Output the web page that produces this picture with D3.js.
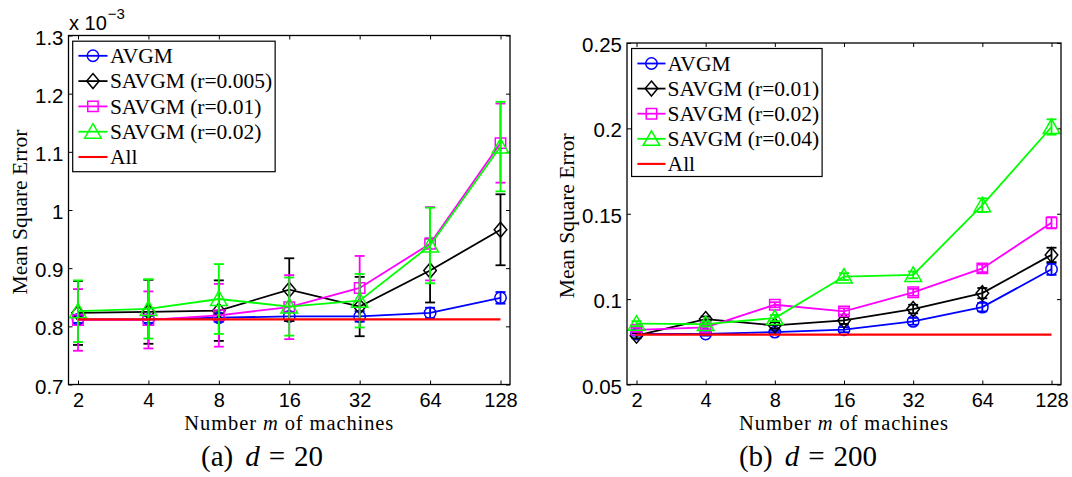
<!DOCTYPE html>
<html><head><meta charset="utf-8">
<script src="https://cdn.jsdelivr.net/npm/d3@7"></script>
<style>body{margin:0;background:#fff} svg{display:block}</style>
</head><body>
<svg id="c" width="1072" height="477"></svg>
<script>
// ---------- DATA ----------
const machines = [2, 4, 8, 16, 32, 64, 128];
const xTickLabels = ["2", "4", "8", "16", "32", "64", "128"];

// Panel (a) d = 20  (values in units of 1e-3)
const a_names = ["AVGM", "SAVGM (r=0.005)", "SAVGM (r=0.01)", "SAVGM (r=0.02)", "All"];
const a_avgm    = [0.812, 0.812, 0.815, 0.817, 0.817, 0.823, 0.849];
const a_avgmErr = [0.006, 0.006, 0.007, 0.008, 0.009, 0.009, 0.010];
const a_s1      = [0.823, 0.825, 0.827, 0.863, 0.834, 0.896, 0.966];
const a_s1Err   = [0.055, 0.055, 0.052, 0.054, 0.051, 0.055, 0.061];
const a_s2      = [0.811, 0.811, 0.819, 0.833, 0.866, 0.942, 1.115];
const a_s2Err   = [0.053, 0.049, 0.054, 0.055, 0.055, 0.063, 0.068];
const a_s3      = [0.826, 0.830, 0.847, 0.834, 0.844, 0.939, 1.109];
const a_s3Err   = [0.053, 0.051, 0.060, 0.050, 0.046, 0.065, 0.077];
const a_all     = [0.812, 0.812, 0.812, 0.812, 0.812, 0.812, 0.812];
const a_yTicks  = [0.7, 0.8, 0.9, 1.0, 1.1, 1.2, 1.3];

// Panel (b) d = 200
const b_names = ["AVGM", "SAVGM (r=0.01)", "SAVGM (r=0.02)", "SAVGM (r=0.04)", "All"];
const b_avgm    = [0.0796, 0.0796, 0.0807, 0.0821, 0.0870, 0.0953, 0.1175];
const b_avgmErr = [0.0010, 0.0010, 0.0012, 0.0015, 0.0020, 0.0025, 0.0033];
const b_s1      = [0.0786, 0.0883, 0.0846, 0.0875, 0.0942, 0.1035, 0.1259];
const b_s1Err   = [0.0015, 0.0015, 0.0018, 0.0020, 0.0025, 0.0030, 0.0042];
const b_s2      = [0.0820, 0.0835, 0.0967, 0.0928, 0.1040, 0.1180, 0.1447];
const b_s2Err   = [0.0012, 0.0012, 0.0015, 0.0018, 0.0020, 0.0022, 0.0033];
const b_s3      = [0.0856, 0.0854, 0.0889, 0.1132, 0.1142, 0.1550, 0.2008];
const b_s3Err   = [0.0015, 0.0015, 0.0018, 0.0020, 0.0020, 0.0040, 0.0045];
const b_all     = [0.0792, 0.0792, 0.0792, 0.0792, 0.0792, 0.0792, 0.0792];
const b_yTicks  = [0.05, 0.1, 0.15, 0.2, 0.25];

// ---------- STYLE ----------
const SERIF = "'Liberation Serif','Times New Roman',Times,serif";
const SANS = "'Liberation Sans',Arial,Helvetica,sans-serif";
const COLORS = ["#0000ff", "#000000", "#ff00ff", "#00ff00", "#ff0000"];
const MARKERS = ["circle", "diamond", "square", "triangle", null];

const svg = d3.select("#c");

function markerPath(type) {
  const p = d3.path();
  if (type === "circle") { p.moveTo(5.7, 0); p.arc(0, 0, 5.7, 0, 2 * Math.PI); }
  else if (type === "square") { p.rect(-5.2, -5.2, 10.4, 10.4); }
  else if (type === "diamond") { p.moveTo(0, -7.5); p.lineTo(6.3, 0); p.lineTo(0, 7.5); p.lineTo(-6.3, 0); p.closePath(); }
  else if (type === "triangle") { p.moveTo(0, -8); p.lineTo(8.3, 6.5); p.lineTo(-8.3, 6.5); p.closePath(); }
  return p.toString();
}

const panels = [
  {
    box: {x0: 68.5, x1: 510, y0: 35.5, y1: 384.5},
    yDomain: [0.7, 1.3], yTicks: a_yTicks,
    names: a_names,
    values: [a_avgm, a_s1, a_s2, a_s3], errs: [a_avgmErr, a_s1Err, a_s2Err, a_s3Err], all: a_all,
    legend: {dx: 4.2, dy: 5.7, h: 130.5, rowH: 25.3, first: 14.6, l0: 5.7, l1: 34.8, tx: 37.2},
    yLabelX: 27, exponent: true,
    caption: {x: 262, y: 466, tag: "(a)", val: "20"}
  },
  {
    box: {x0: 627, x1: 1061, y0: 43, y1: 384.5},
    yDomain: [0.05, 0.25], yTicks: b_yTicks,
    names: b_names,
    values: [b_avgm, b_s1, b_s2, b_s3], errs: [b_avgmErr, b_s1Err, b_s2Err, b_s3Err], all: b_all,
    legend: {dx: 4.6, dy: 5.5, h: 128, rowH: 25.1, first: 15, l0: 5.8, l1: 33.9, tx: 36},
    yLabelX: 574, exponent: false,
    caption: {x: 808, y: 466, tag: "(b)", val: "200"}
  }
];

panels.forEach(P => {
  const B = P.box;
  const inset = 9.5;
  const x = d3.scaleLog().base(2).domain([2, 128]).range([B.x0 + inset, B.x1 - inset]);
  const y = d3.scaleLinear().domain(P.yDomain).range([B.y1, B.y0]);
  const g = svg.append("g");

  // axes with inward ticks on all four sides
  const fmt = d3.format("~g");
  const xb = g.append("g").attr("transform", `translate(0,${B.y1})`)
    .call(d3.axisBottom(x).tickValues(machines).tickFormat((d, i) => xTickLabels[i]).tickSize(-4).tickPadding(7.8));
  const xt = g.append("g").attr("transform", `translate(0,${B.y0})`)
    .call(d3.axisTop(x).tickValues(machines).tickFormat("").tickSize(-4));
  const yl = g.append("g").attr("transform", `translate(${B.x0},0)`)
    .call(d3.axisLeft(y).tickValues(P.yTicks).tickFormat(fmt).tickSize(-4).tickPadding(5));
  const yr = g.append("g").attr("transform", `translate(${B.x1},0)`)
    .call(d3.axisRight(y).tickValues(P.yTicks).tickFormat("").tickSize(-4));
  [xb, xt, yl, yr].forEach(a => {
    a.select(".domain").remove();
    a.selectAll("line").attr("stroke", "#000").attr("stroke-width", 1);
    a.selectAll("text").attr("font-family", SANS).attr("font-size", 20.5).attr("fill", "#000");
  });
  xb.selectAll("text").attr("font-size", 20);
  yl.selectAll("text").attr("dy", null).attr("y", 8.5);

  // series
  P.values.forEach((vals, si) => {
    const col = COLORS[si];
    const sg = g.append("g");
    const pts = machines.map((m, i) => ({m, v: vals[i], e: P.errs[si][i]}));
    sg.append("path").datum(pts)
      .attr("d", d3.line().x(d => x(d.m)).y(d => y(d.v)))
      .attr("fill", "none").attr("stroke", col).attr("stroke-width", 1.8);
    const eb = sg.selectAll(".eb").data(pts).enter().append("g");
    eb.append("line").attr("x1", d => x(d.m)).attr("x2", d => x(d.m))
      .attr("y1", d => y(d.v - d.e)).attr("y2", d => y(d.v + d.e));
    eb.append("line").attr("x1", d => x(d.m) - 5).attr("x2", d => x(d.m) + 5)
      .attr("y1", d => y(d.v - d.e)).attr("y2", d => y(d.v - d.e));
    eb.append("line").attr("x1", d => x(d.m) - 5).attr("x2", d => x(d.m) + 5)
      .attr("y1", d => y(d.v + d.e)).attr("y2", d => y(d.v + d.e));
    eb.selectAll("line").attr("stroke", col).attr("stroke-width", 1.8);
    sg.selectAll(".mk").data(pts).enter().append("path")
      .attr("d", markerPath(MARKERS[si]))
      .attr("transform", d => `translate(${x(d.m)},${y(d.v)})`)
      .attr("fill", "none").attr("stroke", col).attr("stroke-width", 1.5);
  });
  // "All" line
  g.append("path").datum(machines.map((m, i) => ({m, v: P.all[i]})))
    .attr("d", d3.line().x(d => x(d.m)).y(d => y(d.v)))
    .attr("fill", "none").attr("stroke", COLORS[4]).attr("stroke-width", 2.1);

  // box
  g.append("rect").attr("x", B.x0).attr("y", B.y0).attr("width", B.x1 - B.x0).attr("height", B.y1 - B.y0)
    .attr("fill", "none").attr("stroke", "#000").attr("stroke-width", 1.3);

  // legend
  const L = P.legend;
  const lg = g.append("g").attr("transform", `translate(${B.x0 + L.dx},${B.y0 + L.dy})`);
  const lrect = lg.append("rect").attr("x", 0).attr("y", 0).attr("height", L.h)
    .attr("fill", "#fff").attr("stroke", "#000").attr("stroke-width", 1.2);
  let maxW = 0;
  P.names.forEach((name, i) => {
    const cy = L.first + i * L.rowH;
    lg.append("line").attr("x1", L.l0).attr("x2", L.l1).attr("y1", cy).attr("y2", cy)
      .attr("stroke", COLORS[i]).attr("stroke-width", i === 4 ? 2.1 : 1.8);
    if (MARKERS[i]) {
      lg.append("path").attr("d", markerPath(MARKERS[i]))
        .attr("transform", `translate(${(L.l0 + L.l1) / 2},${cy})`)
        .attr("fill", "none").attr("stroke", COLORS[i]).attr("stroke-width", 1.5);
    }
    const t = lg.append("text").attr("x", L.tx).attr("y", cy + 7.2)
      .attr("font-family", SERIF).attr("font-size", 21.5).attr("fill", "#000").text(name);
    maxW = Math.max(maxW, t.node().getComputedTextLength());
  });
  lrect.attr("width", L.tx + maxW + 3);

  // y label
  const cyMid = (B.y0 + B.y1) / 2 + 2;
  g.append("text").attr("transform", `translate(${P.yLabelX},${cyMid}) rotate(-90)`)
    .attr("text-anchor", "middle").attr("font-family", SERIF).attr("font-size", 21.5)
    .attr("fill", "#000").text("Mean Square Error");

  // x label
  const xl = g.append("text").attr("x", (B.x0 + B.x1) / 2).attr("y", 429.5)
    .attr("text-anchor", "middle").attr("font-family", SERIF).attr("font-size", 20.5)
    .attr("letter-spacing", 0.9).attr("fill", "#000");
  xl.append("tspan").text("Number ");
  xl.append("tspan").attr("font-style", "italic").text("m");
  xl.append("tspan").text(" of machines");

  // exponent
  if (P.exponent) {
    const ex = g.append("text").attr("x", B.x0 + 0.5).attr("y", 30)
      .attr("font-family", SANS).attr("font-size", 20).attr("fill", "#000");
    ex.append("tspan").text("x 10");
    ex.append("tspan").attr("font-size", 15).attr("dy", -11).attr("dx", 1).text("\u22123");
  }

  // caption
  const C = P.caption;
  const cap = g.append("text").attr("x", C.x).attr("y", C.y).attr("text-anchor", "middle")
    .attr("font-family", SERIF).attr("font-size", 29).attr("fill", "#000");
  cap.append("tspan").text(C.tag);
  cap.append("tspan").attr("dx", 12).attr("font-style", "italic").text("d");
  cap.append("tspan").attr("dx", 9).text("=");
  cap.append("tspan").attr("dx", 9).text(C.val);
});
</script>
</body></html>
